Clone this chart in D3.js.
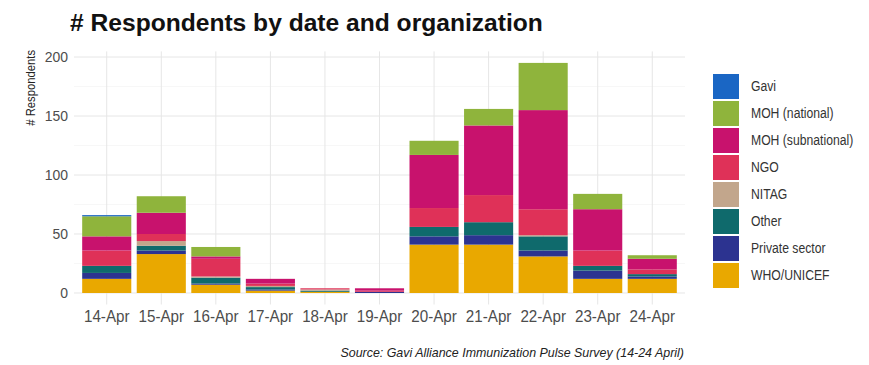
<!DOCTYPE html>
<html>
<head>
<meta charset="utf-8">
<script src="https://cdn.jsdelivr.net/npm/d3@7"></script>
<style>
  html, body { margin: 0; padding: 0; background: #ffffff; }
  svg { display: block; }
</style>
</head>
<body>
<svg id="chart" width="869" height="365"></svg>
<script>
// ---- Data ----
const dates = ["14-Apr","15-Apr","16-Apr","17-Apr","18-Apr","19-Apr","20-Apr","21-Apr","22-Apr","23-Apr","24-Apr"];
const organizations = ["Gavi","MOH (national)","MOH (subnational)","NGO","NITAG","Other","Private sector","WHO/UNICEF"];
const whoUnicef      = [12, 33, 7, 2, 1, 0, 41, 41, 31, 12, 12];
const privateSector  = [5, 3, 1, 1, 0, 1, 7, 8, 5, 7, 2];
const other          = [6, 4, 5, 2, 1, 0, 8, 11, 12, 4, 2];
const nitag          = [0, 4, 1, 1, 1, 0, 0, 0, 1, 0, 0];
const ngo            = [13, 6, 15, 2, 1, 1, 16, 23, 22, 13, 4];
const mohSubnational = [12, 18, 2, 4, 0, 2, 45, 59, 84, 35, 9];
const mohNational    = [17, 14, 8, 0, 0, 0, 12, 14, 40, 13, 3];
const gavi           = [1, 0, 0, 0, 0, 0, 0, 0, 0, 0, 0];
const yTicks = [0, 50, 100, 150, 200];
const yMinorTicks = [25, 75, 125, 175];
const titleText = "# Respondents by date and organization";
const yLabel = "# Respondents";
const sourceText = "Source: Gavi Alliance Immunization Pulse Survey (14-24 April)";

const colors = {
  "Gavi": "#1a66c4",
  "MOH (national)": "#8fb43c",
  "MOH (subnational)": "#c8126d",
  "NGO": "#df3158",
  "NITAG": "#c2a68c",
  "Other": "#0f6a6c",
  "Private sector": "#2c3390",
  "WHO/UNICEF": "#e9a800"
};

const seriesByOrg = {
  "Gavi": gavi,
  "MOH (national)": mohNational,
  "MOH (subnational)": mohSubnational,
  "NGO": ngo,
  "NITAG": nitag,
  "Other": other,
  "Private sector": privateSector,
  "WHO/UNICEF": whoUnicef
};

const table = dates.map((d, i) => {
  const row = { date: d };
  organizations.forEach(o => row[o] = seriesByOrg[o][i]);
  return row;
});

// stacking order: bottom WHO/UNICEF ... top Gavi
const stackKeys = organizations.slice().reverse();
const stacked = d3.stack().keys(stackKeys)(table);

// ---- Layout ----
const svg = d3.select("#chart");
const regular = "'Liberation Sans', Arial, sans-serif";

// condense text horizontally (reference glyphs are narrow/tall)
function condense(sel, factor) {
  sel.each(function () {
    const w = this.getComputedTextLength();
    d3.select(this).attr("textLength", w * factor).attr("lengthAdjust", "spacingAndGlyphs");
  });
}

const panel = { left: 74, right: 685, top: 51.4, bottom: 304.5 };

const x = d3.scaleBand().domain(dates)
  .range([panel.left, panel.right])
  .paddingInner(0.1).paddingOuter(0.15);

const y = d3.scaleLinear().domain([-9.75, 204.75]).range([panel.bottom, panel.top]);

// Grid
const grid = svg.append("g");
grid.selectAll("line.minor").data(yMinorTicks).enter().append("line")
  .attr("x1", panel.left).attr("x2", panel.right)
  .attr("y1", d => y(d)).attr("y2", d => y(d))
  .attr("stroke", "#f2f2f2").attr("stroke-width", 0.6);
grid.selectAll("line.major").data(yTicks).enter().append("line")
  .attr("x1", panel.left).attr("x2", panel.right)
  .attr("y1", d => y(d)).attr("y2", d => y(d))
  .attr("stroke", "#e6e6e6").attr("stroke-width", 1);
grid.selectAll("line.vert").data(dates).enter().append("line")
  .attr("x1", d => x(d) + x.bandwidth() / 2).attr("x2", d => x(d) + x.bandwidth() / 2)
  .attr("y1", panel.top).attr("y2", panel.bottom)
  .attr("stroke", "#e6e6e6").attr("stroke-width", 1);

// Bars
const layers = svg.append("g").selectAll("g").data(stacked).enter().append("g")
  .attr("fill", d => colors[d.key]);
layers.selectAll("rect").data(d => d).enter().append("rect")
  .attr("x", d => x(d.data.date))
  .attr("width", x.bandwidth())
  .attr("y", d => y(d[1]))
  .attr("height", d => Math.max(0, y(d[0]) - y(d[1])));

// Y axis
const yAxis = d3.axisLeft(y).tickValues(yTicks).tickSize(0).tickPadding(6);
const yg = svg.append("g").attr("transform", `translate(${panel.left},0)`).call(yAxis);
yg.select(".domain").remove();
yg.selectAll("text").attr("font-family", regular).attr("font-size", 15.5).attr("fill", "#4d4d4d")
  .call(condense, 0.9);

// X axis
const xAxis = d3.axisBottom(x).tickSize(0).tickPadding(6);
const xg = svg.append("g").attr("transform", `translate(0,${panel.bottom})`).call(xAxis);
xg.select(".domain").remove();
xg.selectAll("text").attr("font-family", regular).attr("font-size", 16.5).attr("fill", "#4d4d4d")
  .call(condense, 0.92);

// Title
svg.append("text").attr("x", 70).attr("y", 31)
  .attr("font-family", regular).attr("font-weight", "bold").attr("font-size", 24.6)
  .attr("fill", "#111").text(titleText);

// Y label
svg.append("text")
  .attr("transform", "translate(35,50) rotate(-90)")
  .attr("text-anchor", "end")
  .attr("font-family", regular).attr("font-size", 12.5).attr("fill", "#222")
  .text(yLabel)
  .call(condense, 0.9);

// Source
svg.append("text").attr("x", 684).attr("y", 357).attr("text-anchor", "end")
  .attr("font-family", regular).attr("font-style", "italic").attr("font-size", 13.5)
  .attr("fill", "#222").text(sourceText)
  .call(condense, 0.92);

// Legend
const legend = svg.append("g").attr("transform", "translate(713,74)");
const li = legend.selectAll("g").data(organizations).enter().append("g")
  .attr("transform", (d, i) => `translate(0,${i * 27})`);
li.append("rect").attr("width", 26).attr("height", 25).attr("fill", d => colors[d]);
li.append("text").attr("x", 38).attr("y", 12.5).attr("dy", "0.35em")
  .attr("font-family", regular).attr("font-size", 14).attr("fill", "#333").text(d => d)
  .call(condense, 0.87);
</script>
</body>
</html>
